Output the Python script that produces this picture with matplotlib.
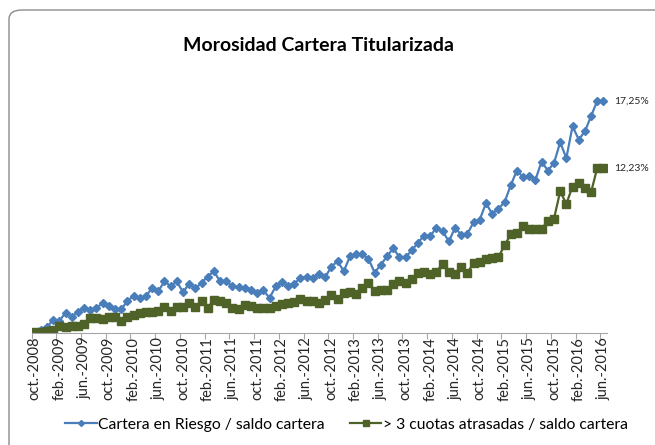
import numpy as np
import matplotlib.pyplot as plt
from matplotlib.patches import FancyBboxPatch

plt.rcParams['font.family'] = ['Lato', 'DejaVu Sans']

# monthly categories oct-2008 .. jun-2016
meses = ["ene.", "feb.", "mar.", "abr.", "may.", "jun.",
         "jul.", "ago.", "sep.", "oct.", "nov.", "dic."]
fechas = []
for k in range(93):
    m = (9 + k) % 12
    y = 2008 + (9 + k) // 12
    fechas.append(f"{meses[m]}-{y}")

# Cartera en Riesgo / saldo cartera (%)
riesgo = [0.05, 0.20, 0.39, 0.95, 0.89, 1.44, 1.19, 1.51, 1.84, 1.64,
          1.84, 2.18, 1.99, 1.73, 1.73, 2.33, 2.73, 2.55, 2.73, 3.28,
          3.08, 3.80, 3.45, 3.80, 3.00, 3.63, 3.28, 3.70, 4.17, 4.56,
          3.80, 3.80, 3.43, 3.37, 3.33, 3.13, 2.93, 3.13, 2.58, 3.43,
          3.75, 3.48, 3.63, 4.07, 4.17, 4.07, 4.32, 4.12, 4.91, 5.31,
          4.56, 5.66, 5.81, 5.81, 5.49, 4.45, 5.06, 5.66, 6.28, 5.61,
          5.61, 6.11, 6.68, 7.22, 7.20, 7.80, 7.54, 6.78, 7.80, 7.27,
          7.35, 8.21, 8.41, 9.63, 8.84, 9.21, 9.70, 10.95, 12.06, 11.56,
          11.67, 11.37, 12.73, 12.06, 12.61, 14.17, 12.98, 15.36, 14.37, 14.97,
          16.11, 17.25, 17.25]

# > 3 cuotas atrasadas / saldo cartera (%)
atrasadas = [0.02, 0.02, 0.10, 0.20, 0.47, 0.39, 0.47, 0.48, 0.65, 1.09,
             1.09, 0.99, 1.14, 1.14, 0.87, 1.19, 1.27, 1.44, 1.51, 1.55,
             1.59, 1.88, 1.59, 1.88, 1.88, 2.21, 1.88, 2.31, 1.84, 2.43,
             2.33, 2.21, 1.86, 1.76, 2.06, 1.94, 1.84, 1.84, 1.79, 2.01,
             2.14, 2.23, 2.26, 2.51, 2.33, 2.33, 2.23, 2.43, 2.81, 2.51,
             2.96, 3.05, 2.83, 3.30, 3.67, 3.08, 3.13, 3.18, 3.63, 3.80,
             3.70, 3.95, 4.45, 4.54, 4.32, 4.54, 5.12, 4.54, 4.37, 4.91,
             4.45, 5.16, 5.23, 5.49, 5.56, 5.61, 6.48, 7.30, 7.39, 7.92,
             7.67, 7.72, 7.72, 8.29, 8.47, 10.50, 9.58, 10.87, 11.12, 10.77,
             10.45, 12.25, 12.23]

x = np.arange(len(fechas))

fig = plt.figure(figsize=(6.55, 4.45), dpi=100)
ax = fig.add_axes([0.0481, 0.2528, 0.926 - 0.0481, 0.8564 - 0.2528])

# rounded chart border (open to the right and bottom)
borde = FancyBboxPatch((9 / 655, -0.2), 1.2, 1.2 - 10 / 445,
                       boxstyle="round,pad=0,rounding_size=0.02",
                       transform=fig.transFigure, fill=False,
                       edgecolor="#8c8c8c", linewidth=1.0)
fig.patches.append(borde)

ax.plot(x, riesgo, color="#4A7EBB", marker="D", markersize=3.8,
        linewidth=1.6, label="Cartera en Riesgo / saldo cartera")
ax.plot(x, atrasadas, color="#4F6228", marker="s", markersize=5.2,
        linewidth=1.6, label="> 3 cuotas atrasadas / saldo cartera")

ax.annotate("17,25%", (x[-1], riesgo[-1]), xytext=(8, 0),
            textcoords="offset points", va="center", fontsize=7.5,
            color="#262626")
ax.annotate("12,23%", (x[-1], atrasadas[-1]), xytext=(8, 0),
            textcoords="offset points", va="center", fontsize=7.5,
            color="#262626")

ax.set_xlim(-0.5, len(x) - 0.5)
ax.set_ylim(0, 20)
ax.set_yticks([])
for s in ["left", "right", "top"]:
    ax.spines[s].set_visible(False)
ax.spines["bottom"].set_color("#a6a6a6")

# tick marks at category boundaries, labels every 4th month
ax.set_xticks(np.arange(-0.5, len(x) - 0.5, 4))
ax.set_xticklabels([])
ax.tick_params(axis="x", which="major", length=4, color="#a6a6a6",
               direction="out")
ax.set_xticks(x[::4], minor=True)
ax.set_xticklabels([fechas[i] for i in x[::4]], minor=True,
                   rotation=90, fontsize=10.5, color="#262626")
ax.tick_params(axis="x", which="minor", length=0, pad=3)

fig.text(0.487, 0.898, "Morosidad Cartera Titularizada", ha="center",
         va="center", fontsize=14, fontweight="bold")

leg = fig.legend(loc="center", bbox_to_anchor=(0.529, 0.045), ncol=2,
                 frameon=False, fontsize=11.3, handlelength=2.0,
                 columnspacing=1.6, handletextpad=0.1, markerscale=0.8)

fig.savefig("out.png", dpi=100)
